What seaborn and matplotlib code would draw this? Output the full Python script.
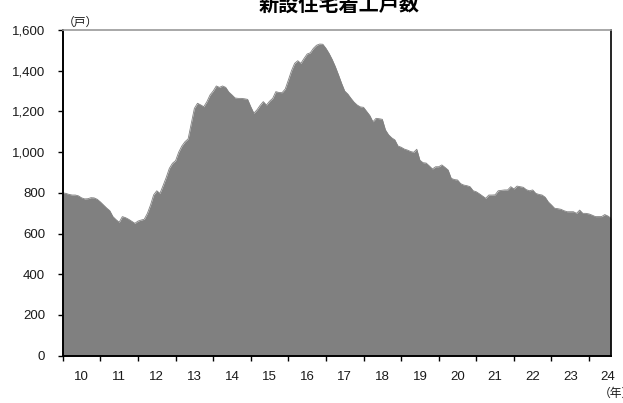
import numpy as np
import pandas as pd
import matplotlib
matplotlib.use("Agg")
import matplotlib.pyplot as plt
import seaborn as sns

# ---- data (monthly, Jan 2010 - Aug 2024) ----
title = "新設住宅着工戸数"
unit_y = "（戸）"
unit_x = "（年）"
year_labels = ["10", "11", "12", "13", "14", "15", "16", "17", "18", "19", "20", "21", "22", "23", "24"]
v2010 = [800, 797, 792, 789, 789, 785, 775, 770, 771, 776, 775, 768]
v2011 = [755, 740, 725, 712, 683, 668, 655, 683, 678, 670, 660, 650]
v2012 = [661, 666, 670, 699, 740, 790, 810, 797, 835, 875, 920, 945]
v2013 = [958, 1000, 1030, 1051, 1065, 1140, 1215, 1240, 1232, 1223, 1248, 1281]
v2014 = [1300, 1325, 1318, 1325, 1318, 1295, 1281, 1266, 1264, 1264, 1262, 1259]
v2015 = [1223, 1191, 1208, 1230, 1248, 1231, 1250, 1264, 1297, 1293, 1292, 1310]
v2016 = [1354, 1400, 1436, 1449, 1436, 1460, 1482, 1488, 1510, 1525, 1531, 1530]
v2017 = [1510, 1485, 1455, 1420, 1380, 1338, 1300, 1285, 1264, 1245, 1231, 1222]
v2018 = [1220, 1200, 1180, 1149, 1166, 1164, 1161, 1109, 1085, 1070, 1060, 1030]
v2019 = [1024, 1015, 1010, 1003, 999, 1014, 960, 948, 946, 932, 917, 928]
v2020 = [928, 937, 925, 912, 871, 865, 863, 845, 838, 835, 830, 810]
v2021 = [805, 795, 784, 773, 789, 789, 790, 810, 812, 814, 814, 830]
v2022 = [819, 833, 830, 827, 815, 810, 814, 797, 792, 789, 778, 755]
v2023 = [740, 724, 722, 719, 712, 707, 707, 707, 699, 715, 699, 699]
v2024 = [696, 690, 683, 683, 683, 693, 686, 675]

values = (v2010 + v2011 + v2012 + v2013 + v2014 + v2015 + v2016 + v2017
          + v2018 + v2019 + v2020 + v2021 + v2022 + v2023 + v2024)
df = pd.DataFrame({"month": np.arange(len(values)), "value": values})

sns.set_theme(style="white")
plt.rcParams["font.family"] = ["Liberation Sans", "Noto Sans CJK JP", "DejaVu Sans"]

fig = plt.figure(figsize=(6.23, 4.03), dpi=100)
ax = fig.add_axes([62.8 / 623, 1 - 355.6 / 403, (611 - 62.8) / 623, (355.6 - 30) / 403])

fill_color = "#808080"
sns.lineplot(data=df, x="month", y="value", ax=ax, color=fill_color, linewidth=0.6)
ax.fill_between(df["month"], 0, df["value"], color=fill_color, linewidth=0)

n = len(values)
ax.set_xlim(0, n - 1)
ax.set_ylim(0, 1600)
ax.set_xlabel("")
ax.set_ylabel("")

# y axis
yt = np.arange(0, 1601, 200)
ax.set_yticks(yt)
ax.set_yticklabels([f"{v:,}" for v in yt], fontsize=9.5, color="#1a1a1a")
ax.tick_params(axis="y", which="major", direction="out", length=3.6, width=1,
               color="black", pad=9, left=True)

# x axis: ticks at year boundaries, labels centered in each year
ax.set_xticks([12 * k for k in range(len(year_labels))])
ax.set_xticklabels([])
minor_pos = [min(12 * k + 6, n - 1.5) for k in range(len(year_labels))]
ax.set_xticks(minor_pos, minor=True)
ax.set_xticklabels(year_labels, minor=True, fontsize=9.5, color="#1a1a1a")
ax.tick_params(axis="x", which="major", direction="out", length=3.4, width=1,
               color="black", bottom=True)
ax.tick_params(axis="x", which="minor", length=0, pad=11, bottom=True)

for side in ["left", "bottom", "right"]:
    ax.spines[side].set_visible(True)
    ax.spines[side].set_color("black")
ax.spines["left"].set_linewidth(1.4)
ax.spines["bottom"].set_linewidth(1.4)
ax.spines["right"].set_linewidth(1.2)
ax.spines["top"].set_visible(True)
ax.spines["top"].set_color("#9a9a9a")
ax.spines["top"].set_linewidth(1.2)
ax.grid(False)

fig.text(339.5 / 623, 1 - 4 / 403, title, ha="center", va="center",
         fontsize=14.5, fontweight="bold", family=["Noto Sans CJK JP", "DejaVu Sans"],
         color="black")
fig.text(63 / 623, 1 - 22 / 403, unit_y, ha="left", va="center", fontsize=8.5,
         family=["Noto Sans CJK JP", "DejaVu Sans"], color="#1a1a1a")
fig.text(599 / 623, 1 - 393 / 403, unit_x, ha="left", va="center", fontsize=8.5,
         family=["Noto Sans CJK JP", "DejaVu Sans"], color="#1a1a1a")

fig.savefig("out.png", dpi=100)
